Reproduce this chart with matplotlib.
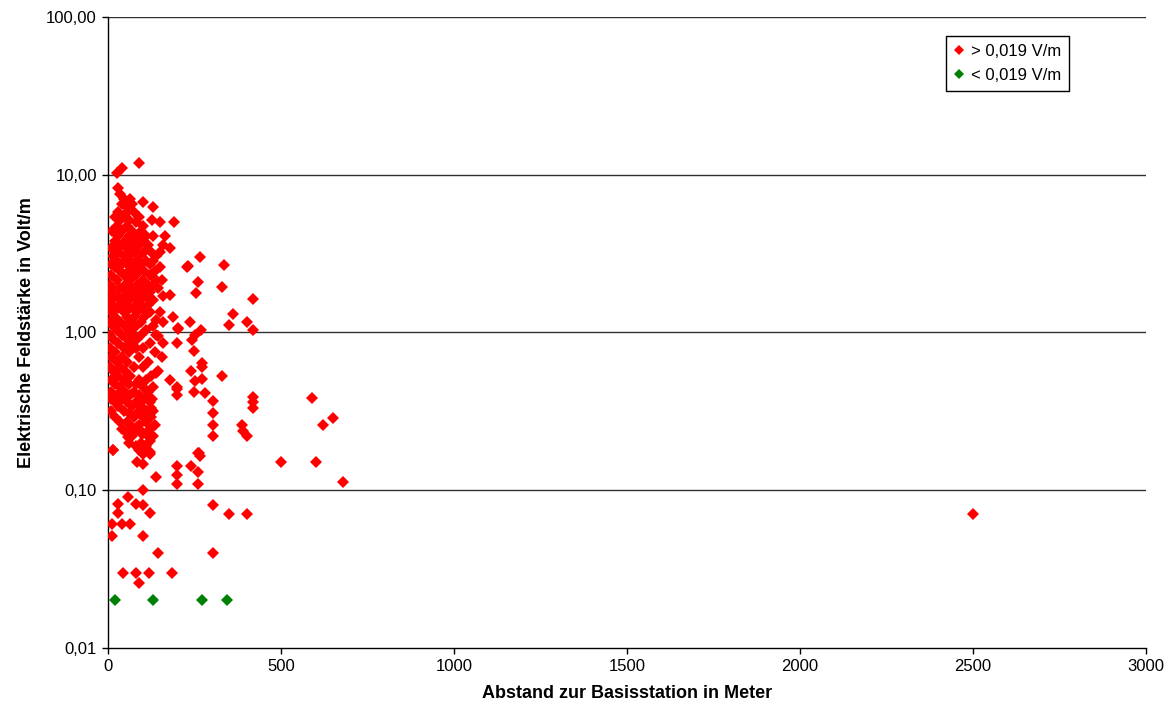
import matplotlib
matplotlib.use("Agg")
import matplotlib.pyplot as plt
from matplotlib.ticker import FixedLocator, FuncFormatter, NullLocator

plt.rcParams['font.family'] = ['Liberation Sans', 'DejaVu Sans']

# Messpunkte > 0,019 V/m  (Abstand in m, Feldstaerke in V/m)
red_dist = [
    90, 40, 26, 29, 35, 64, 45, 101, 50, 40, 70, 130, 55, 55, 75, 30,
    20, 45, 90, 127, 62, 35, 150, 191, 80, 25, 55, 100, 12, 40, 70, 95,
    165, 130, 30, 60, 85, 110, 20, 48, 75, 100, 20, 159, 40, 62, 90, 115,
    179, 10, 55, 80, 150, 30, 70, 105, 125, 15, 45, 90, 60, 140,
    25, 65, 110, 80, 130, 8, 40, 95, 55, 120, 228, 150, 20, 75,
    35, 60, 105, 135, 90, 10, 45, 80, 120, 25, 65, 100, 140, 155,
    5, 50, 85, 115, 130, 15, 35, 70, 145, 100, 8, 55, 90, 120, 179,
    25, 45, 75, 110, 160, 5, 35, 60, 95, 130, 15, 50, 80, 115,
    2, 30, 65, 100, 150, 10, 45, 85, 120, 188, 20, 55, 75, 105,
    159, 5, 35, 65, 95, 15, 50, 80, 130, 202, 25, 60, 110,
    5, 40, 75, 95, 140, 15, 55, 85, 199, 160, 30, 65, 120,
    5, 45, 80, 100, 20, 60, 135, 156, 10, 40, 90, 25, 55, 115,
    5, 35, 75, 100, 145, 15, 50, 30, 65, 125, 179, 8, 45, 90, 110,
    20, 60, 80, 199, 35, 100, 130, 10, 50, 75, 115, 199, 25, 65, 90,
    127, 40, 105, 10, 20, 55, 80, 120, 30, 70, 95, 10, 45, 110, 130,
    60, 85, 20, 75, 100, 125, 35, 55, 110, 65, 90, 135, 40, 80, 120,
    55, 100, 70, 115, 130, 60, 95, 80, 110, 14, 90, 100, 120,
    58, 98, 121, 92, 121, 101, 84, 101,
    14, 260, 266, 260, 199, 240, 199, 199, 139, 260,
    101, 58, 29, 81, 101, 121, 29, 12, 40, 64, 12, 101, 303, 145, 303,
    43, 81, 119, 185, 90, 350, 402, 2500,
    330, 303, 303, 303, 303, 419, 419, 419, 387, 390, 402,
    590, 621, 650, 500, 601, 680,
    237, 202, 269, 251, 243, 249, 272, 272, 240, 251, 272, 199, 249, 280,
    263, 361, 350, 402, 419, 419,
    231, 266, 335, 260, 254, 330,
    138, 145, 140, 125, 85, 70,
]
red_field = [
    11.8, 11.0, 10.3, 8.2, 7.5, 7.0, 7.0, 6.7, 6.7, 6.5, 6.5, 6.2, 6.2, 5.8, 5.8, 5.8,
    5.4, 5.4, 5.4, 5.2, 5.2, 5.2, 5.0, 5.0, 5.0, 4.7, 4.7, 4.7, 4.4, 4.4, 4.4, 4.4,
    4.1, 4.1, 4.1, 4.1, 4.1, 4.1, 3.8, 3.8, 3.8, 3.8, 3.6, 3.6, 3.6, 3.6, 3.6, 3.6,
    3.45, 3.45, 3.45, 3.45, 3.26, 3.26, 3.26, 3.26, 3.26, 3.05, 3.05, 3.05, 3.05, 3.05,
    2.85, 2.85, 2.85, 2.85, 2.85, 2.7, 2.7, 2.7, 2.7, 2.7, 2.6, 2.6, 2.6, 2.6,
    2.45, 2.45, 2.45, 2.45, 2.45, 2.3, 2.3, 2.3, 2.3, 2.15, 2.15, 2.15, 2.15, 2.15,
    2.0, 2.0, 2.0, 2.0, 2.0, 1.9, 1.9, 1.9, 1.9, 1.9, 1.8, 1.8, 1.8, 1.8, 1.74,
    1.7, 1.7, 1.7, 1.7, 1.7, 1.6, 1.6, 1.6, 1.6, 1.6, 1.5, 1.5, 1.5, 1.5,
    1.42, 1.42, 1.42, 1.42, 1.34, 1.34, 1.34, 1.34, 1.34, 1.26, 1.26, 1.26, 1.26, 1.26,
    1.17, 1.17, 1.17, 1.17, 1.17, 1.1, 1.1, 1.1, 1.1, 1.05, 1.04, 1.04, 1.04,
    0.97, 0.97, 0.97, 0.97, 0.97, 0.91, 0.91, 0.91, 0.86, 0.86, 0.86, 0.86, 0.86,
    0.8, 0.8, 0.8, 0.8, 0.75, 0.75, 0.75, 0.7, 0.7, 0.7, 0.7, 0.65, 0.65, 0.65,
    0.6, 0.6, 0.6, 0.6, 0.57, 0.57, 0.57, 0.53, 0.53, 0.53, 0.5, 0.5, 0.5, 0.5, 0.5,
    0.47, 0.47, 0.47, 0.45, 0.45, 0.45, 0.45, 0.42, 0.42, 0.42, 0.42, 0.40, 0.40, 0.40, 0.40,
    0.38, 0.38, 0.38, 0.38, 0.36, 0.36, 0.36, 0.36, 0.34, 0.34, 0.34, 0.32, 0.32, 0.32, 0.32,
    0.31, 0.31, 0.29, 0.29, 0.29, 0.29, 0.27, 0.27, 0.27, 0.26, 0.26, 0.26, 0.245, 0.245, 0.245,
    0.23, 0.23, 0.22, 0.22, 0.22, 0.2, 0.2, 0.19, 0.19, 0.18, 0.18, 0.17, 0.17,
    0.216, 0.226, 0.204, 0.187, 0.174, 0.178, 0.152, 0.146,
    0.18, 0.173, 0.164, 0.13, 0.143, 0.143, 0.124, 0.11, 0.122, 0.11,
    0.10, 0.091, 0.082, 0.082, 0.081, 0.072, 0.072, 0.061, 0.061, 0.061, 0.051, 0.051, 0.081, 0.040, 0.040,
    0.030, 0.030, 0.030, 0.030, 0.026, 0.071, 0.071, 0.071,
    0.53, 0.37, 0.31, 0.26, 0.22, 0.39, 0.365, 0.33, 0.26, 0.236, 0.22,
    0.387, 0.26, 0.285, 0.152, 0.152, 0.112,
    1.17, 1.07, 1.04, 0.97, 0.90, 0.76, 0.645, 0.60, 0.566, 0.496, 0.51, 0.44, 0.42, 0.416,
    0.171, 1.30, 1.12, 1.16, 1.04, 1.64,
    2.62, 2.99, 2.66, 2.1, 1.79, 1.93,
    1.2, 0.95, 0.55, 0.33, 0.25, 0.23,
]

# Messpunkte < 0,019 V/m
green_dist = [20, 130, 272, 344]
green_field = [0.02, 0.02, 0.02, 0.02]

y_ticks = [0.01, 0.1, 1, 10, 100]
x_ticks = [0, 500, 1000, 1500, 2000, 2500, 3000]

fig = plt.figure(figsize=(11.75, 7.13), dpi=100)
ax = fig.add_axes([0.0919, 0.0912, 0.8834, 0.885])

ax.set_yscale('log')
ax.set_xlim(0, 3000)
ax.set_ylim(0.01, 100)

for v in y_ticks[1:]:
    ax.axhline(v, color='#303030', lw=1.0, zorder=1)

ax.plot(red_dist, red_field, 'D', color='#FF0000', markersize=5.7,
        markeredgewidth=0, label='> 0,019 V/m', zorder=3)
ax.plot(green_dist, green_field, 'D', color='#008000', markersize=5.7,
        markeredgewidth=0, label='< 0,019 V/m', zorder=3)

ax.yaxis.set_major_locator(FixedLocator(y_ticks))
ax.yaxis.set_minor_locator(NullLocator())
ax.yaxis.set_major_formatter(FuncFormatter(lambda v, p: f"{v:.2f}".replace('.', ',')))
ax.xaxis.set_major_locator(FixedLocator(x_ticks))
ax.xaxis.set_major_formatter(FuncFormatter(lambda v, p: f"{int(v)}"))

ax.spines['top'].set_visible(False)
ax.spines['right'].set_visible(False)
ax.spines['left'].set_linewidth(1.0)
ax.spines['bottom'].set_linewidth(1.0)
ax.tick_params(axis='both', direction='out', length=4, width=1,
               labelsize=12, colors='black', pad=4)

ax.set_xlabel('Abstand zur Basisstation in Meter', fontsize=13,
              fontweight='bold', labelpad=8)
ax.set_ylabel('Elektrische Feldstärke in Volt/m', fontsize=13,
              fontweight='bold', labelpad=8)

leg = ax.legend(loc='upper left', bbox_to_anchor=(0.807, 0.970),
                borderaxespad=0, fontsize=12, handlelength=0.6,
                handletextpad=0.4, fancybox=False, framealpha=1,
                edgecolor='black', borderpad=0.5, labelspacing=0.5,
                markerscale=0.85)
leg.get_frame().set_linewidth(1.0)

fig.savefig('out.png', dpi=100)
